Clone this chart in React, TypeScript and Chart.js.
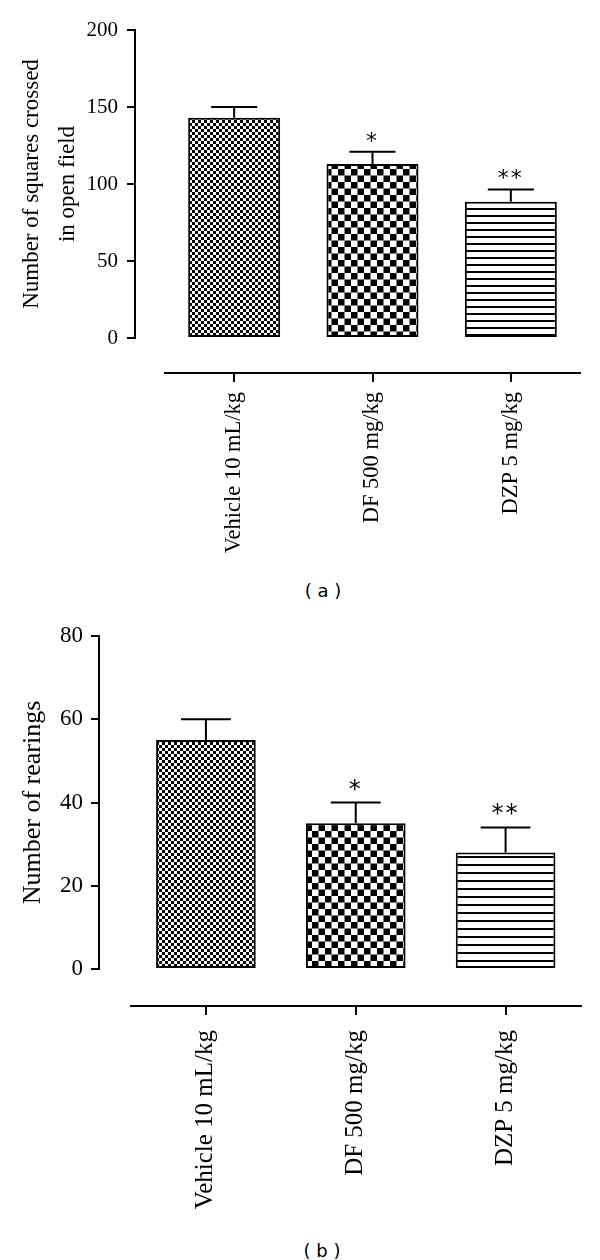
import React, { useEffect, useRef } from 'react';
import { Chart, registerables } from 'chart.js';

Chart.register(...registerables);

// ---------- data ----------
const groups = ['Vehicle 10 mL/kg', 'DF 500 mg/kg', 'DZP 5 mg/kg'];
const significance = ['', '*', '**'];

const squaresMean = [143, 113, 88.5];
const squaresSem = [7, 8, 8];
const squaresTicks = [0, 50, 100, 150, 200];
const squaresTitle = ['Number of squares crossed', 'in open field'];

const rearingsMean = [55, 35, 28];
const rearingsSem = [5, 5, 6];
const rearingsTicks = [0, 20, 40, 60, 80];
const rearingsTitle = 'Number of rearings';

const captionA = '( a )';
const captionB = '( b )';

const SERIF = '"Liberation Serif", "Times New Roman", serif';
const SANS = '"DejaVu Sans", Verdana, sans-serif';

// ---------- fills ----------
function checker(ctx: CanvasRenderingContext2D, period: number) {
  const c = document.createElement('canvas');
  c.width = period;
  c.height = period;
  const g = c.getContext('2d')!;
  g.fillStyle = '#fff';
  g.fillRect(0, 0, period, period);
  g.fillStyle = '#000';
  const h = period / 2;
  g.fillRect(0, 0, h, h);
  g.fillRect(h, h, h, h);
  return ctx.createPattern(c, 'repeat');
}

function hLines(ctx: CanvasRenderingContext2D, gap: number, thick: number) {
  const c = document.createElement('canvas');
  c.width = 4;
  c.height = gap;
  const g = c.getContext('2d')!;
  g.fillStyle = '#fff';
  g.fillRect(0, 0, 4, gap);
  g.fillStyle = '#000';
  g.fillRect(0, gap - thick, 4, thick);
  return ctx.createPattern(c, 'repeat');
}

// ---------- error bars + significance marks ----------
function errorPlugin(means: number[], errs: number[], marks: string[], markFont: string, markGap: number) {
  return {
    id: 'errorBars',
    afterDatasetsDraw(chart: any) {
      const { ctx } = chart;
      const meta = chart.getDatasetMeta(0);
      const y = chart.scales.y;
      ctx.save();
      ctx.strokeStyle = '#000';
      ctx.lineWidth = 2;
      meta.data.forEach((bar: any, i: number) => {
        const yBase = y.getPixelForValue(means[i]);
        const yTop = y.getPixelForValue(means[i] + errs[i]);
        const half = bar.width * 0.25;
        ctx.beginPath();
        ctx.moveTo(bar.x, yBase);
        ctx.lineTo(bar.x, yTop);
        ctx.moveTo(bar.x - half, yTop);
        ctx.lineTo(bar.x + half, yTop);
        ctx.stroke();
        const m = marks[i];
        if (m) {
          ctx.fillStyle = '#000';
          ctx.font = markFont;
          ctx.textAlign = 'center';
          ctx.textBaseline = 'alphabetic';
          try { (ctx as any).letterSpacing = '2px'; } catch (e) {}
          ctx.fillText(m, bar.x, yTop - markGap);
          try { (ctx as any).letterSpacing = '0px'; } catch (e) {}
        }
      });
      ctx.restore();
    },
  };
}

interface PanelSpec {
  means: number[];
  errs: number[];
  ticks: number[];
  title: string | string[];
  titleSize: number;
  titleLineHeight: number;
  titlePad: number;
  tickSize: number;
  tickPad: number;
  labelSize: number;
  labelPad: number;
  padTop: number;
  padRight: number;
  yWidth: number;
  ySpacer: number;
  xSpacer: number;
  xHeight: number;
  fine: number;
  coarse: number;
  lineGap: number;
  markFont: string;
  markGap: number;
}

function buildChart(canvas: HTMLCanvasElement, p: PanelSpec) {
  const ctx = canvas.getContext('2d')!;
  const fills = [checker(ctx, p.fine), checker(ctx, p.coarse), hLines(ctx, p.lineGap, 2)];
  return new Chart(canvas, {
    type: 'bar',
    data: {
      labels: groups,
      datasets: [
        {
          data: p.means,
          backgroundColor: fills as any,
          borderColor: '#000',
          borderWidth: 2,
          borderSkipped: false,
          barPercentage: 0.665,
          categoryPercentage: 1,
        },
      ],
    },
    options: {
      responsive: false,
      animation: false,
      devicePixelRatio: 1,
      events: [],
      layout: { padding: { top: p.padTop, right: p.padRight, left: 0, bottom: 0 } },
      plugins: {
        legend: { display: false },
        tooltip: { enabled: false },
        title: { display: false },
      },
      scales: {
        x: {
          type: 'category',
          position: 'bottom',
          weight: 1,
          offset: true,
          grid: {
            display: true,
            drawOnChartArea: false,
            drawTicks: true,
            tickLength: 9,
            offset: false,
            color: '#000',
            lineWidth: 2,
          },
          border: { display: true, color: '#000', width: 2 },
          ticks: {
            autoSkip: false,
            minRotation: 90,
            maxRotation: 90,
            padding: p.labelPad,
            color: '#000',
            font: { family: SERIF, size: p.labelSize },
          },
          afterFit: (s: any) => {
            s.height = p.xHeight;
          },
        },
        xs: {
          type: 'linear',
          axis: 'x',
          position: 'bottom',
          weight: 0,
          display: true,
          grid: { display: false },
          border: { display: false },
          ticks: { display: false },
          afterFit: (s: any) => {
            s.height = p.xSpacer;
          },
        },
        y: {
          type: 'linear',
          position: 'left',
          weight: 1,
          min: p.ticks[0],
          max: p.ticks[p.ticks.length - 1],
          grid: {
            display: true,
            drawOnChartArea: false,
            drawTicks: true,
            tickLength: 8,
            color: '#000',
            lineWidth: 2,
          },
          border: { display: true, color: '#000', width: 2 },
          ticks: {
            stepSize: p.ticks[1] - p.ticks[0],
            padding: p.tickPad,
            color: '#000',
            font: { family: SERIF, size: p.tickSize },
          },
          title: {
            display: true,
            text: p.title,
            color: '#000',
            font: { family: SERIF, size: p.titleSize, lineHeight: p.titleLineHeight },
            padding: { top: p.titlePad, bottom: 0 },
          },
          afterFit: (s: any) => {
            s.width = p.yWidth;
          },
        },
        ys: {
          type: 'linear',
          axis: 'y',
          position: 'left',
          weight: 0,
          display: true,
          grid: { display: false },
          border: { display: false },
          ticks: { display: false },
          afterFit: (s: any) => {
            s.width = p.ySpacer;
          },
        },
      },
    } as any,
    plugins: [errorPlugin(p.means, p.errs, significance, p.markFont, p.markGap)],
  });
}

export default function App() {
  const refA = useRef<HTMLCanvasElement>(null);
  const refB = useRef<HTMLCanvasElement>(null);

  useEffect(() => {
    const a = buildChart(refA.current!, {
      means: squaresMean,
      errs: squaresSem,
      ticks: squaresTicks,
      title: squaresTitle,
      titleSize: 23,
      titleLineHeight: 36 / 23,
      titlePad: 14,
      tickSize: 21,
      tickPad: 9,
      labelSize: 22.5,
      labelPad: 10,
      padTop: 30,
      padRight: 20,
      yWidth: 135,
      ySpacer: 30,
      xSpacer: 35,
      xHeight: 202,
      fine: 6,
      coarse: 13,
      lineGap: 7,
      markFont: `22px ${SANS}`,
      markGap: 4,
    });
    const b = buildChart(refB.current!, {
      means: rearingsMean,
      errs: rearingsSem,
      ticks: rearingsTicks,
      title: rearingsTitle,
      titleSize: 26,
      titleLineHeight: 1.2,
      titlePad: 17.4,
      tickSize: 23,
      tickPad: 8,
      labelSize: 25,
      labelPad: 15,
      padTop: 26,
      padRight: 19.5,
      yWidth: 99,
      ySpacer: 32,
      xSpacer: 37,
      xHeight: 224,
      fine: 6,
      coarse: 13,
      lineGap: 8,
      markFont: `24px ${SANS}`,
      markGap: 6,
    });
    return () => {
      a.destroy();
      b.destroy();
    };
  }, []);

  const capStyle: React.CSSProperties = {
    position: 'absolute',
    width: 120,
    textAlign: 'center',
    fontFamily: SANS,
    fontSize: 18,
    lineHeight: '20px',
    color: '#000',
    whiteSpace: 'pre',
  };

  return (
    <div style={{ position: 'absolute', left: 0, top: 0, width: 600, height: 1260, background: '#fff', overflow: 'hidden' }}>
      <canvas ref={refA} width={600} height={575} style={{ position: 'absolute', left: 0, top: 0, display: 'block' }} />
      <div style={{ ...capStyle, left: 323 - 60, top: 581 }}>{captionA}</div>
      <canvas ref={refB} width={600} height={620} style={{ position: 'absolute', left: 0, top: 610, display: 'block' }} />
      <div style={{ ...capStyle, left: 322 - 60, top: 1241 }}>{captionB}</div>
    </div>
  );
}
